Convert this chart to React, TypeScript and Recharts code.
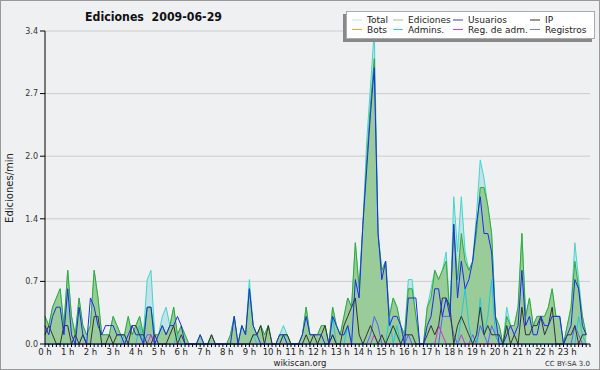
import { ComposedChart, Area, Line, XAxis, YAxis, CartesianGrid } from 'recharts';

// 10-minute slots, one row per hour (6 values), edits per minute
const totalValues = [
  0.3, 0.2, 0.4, 0.5, 0.6, 0.2,
  0.8, 0.3, 0.1, 0.5, 0.2, 0.1,
  0.2, 0.8, 0.5, 0.1, 0.1, 0.1,
  0.3, 0.2, 0.1, 0.1, 0.3, 0.1,
  0.2, 0.3, 0.1, 0.7, 0.8, 0.1,
  0.1, 0.3, 0.4, 0.2, 0.4, 0.1,
  0.2, 0.1, 0, 0, 0, 0.1,
  0, 0, 0.1, 0, 0, 0,
  0, 0.1, 0.3, 0, 0.2, 0.1,
  0.7, 0.2, 0.1, 0.2, 0.1, 0.2,
  0, 0, 0.1, 0.2, 0.1, 0,
  0, 0, 0.1, 0.4, 0.1, 0.1,
  0.1, 0.2, 0.2, 0, 0.4, 0.2,
  0.1, 0.3, 0.5, 0.4, 1.1, 0.6,
  1.3, 2.2, 2.8, 3.4, 1.2, 0.8,
  0.9, 0.3, 0.5, 0.4, 0.2, 0.1,
  0.7, 0.7, 0.3, 0, 0, 0.4,
  0.6, 0.8, 0.7, 0.8, 1.0, 0.3,
  1.6, 1.0, 1.6, 1.0, 0.8, 0.9,
  1.4, 2.0, 1.8, 1.5, 1.2, 0.3,
  0.2, 0, 0.4, 0.2, 0.2, 0.4,
  1.2, 0.3, 0.5, 0.2, 0.3, 0.3,
  0.3, 0.4, 0.6, 0.3, 0.3, 0,
  0.2, 0.4, 1.1, 0.7, 0.3, 0.1,
];

const edicionesValues = [
  0.3, 0.2, 0.4, 0.5, 0.6, 0.2,
  0.8, 0.3, 0.1, 0.5, 0.2, 0.1,
  0.2, 0.8, 0.5, 0.1, 0.1, 0.1,
  0.3, 0.2, 0.1, 0.1, 0.3, 0.1,
  0.2, 0.3, 0.1, 0.4, 0.4, 0.1,
  0.1, 0.2, 0.1, 0.2, 0.4, 0.1,
  0.2, 0.1, 0, 0, 0, 0.1,
  0, 0, 0.1, 0, 0, 0,
  0, 0.1, 0.3, 0, 0.2, 0.1,
  0.6, 0.2, 0.1, 0.2, 0.1, 0.2,
  0, 0, 0.1, 0.1, 0.1, 0,
  0, 0, 0.1, 0.4, 0.1, 0.1,
  0.1, 0.2, 0.2, 0, 0.4, 0.2,
  0.1, 0.3, 0.5, 0.4, 1.1, 0.6,
  1.3, 2.0, 2.6, 3.1, 1.2, 0.8,
  0.9, 0.3, 0.5, 0.4, 0.2, 0.1,
  0.6, 0.6, 0.3, 0, 0, 0.4,
  0.5, 0.8, 0.7, 0.8, 0.9, 0.3,
  1.3, 0.7, 1.2, 0.9, 0.8, 0.9,
  1.2, 1.7, 1.7, 1.5, 1.2, 0.3,
  0.2, 0, 0.3, 0.2, 0.2, 0.4,
  1.2, 0.3, 0.5, 0.2, 0.3, 0.3,
  0.3, 0.4, 0.6, 0.3, 0.3, 0,
  0.2, 0.4, 0.9, 0.6, 0.3, 0.1,
];

const usuariosValues = [
  0.2, 0.1, 0.3, 0.4, 0.4, 0.1,
  0.6, 0.1, 0, 0.4, 0.1, 0,
  0.5, 0.4, 0.2, 0.1, 0.2, 0.2,
  0.2, 0.1, 0.1, 0, 0.1, 0.2,
  0.1, 0.1, 0, 0.4, 0.4, 0,
  0.1, 0.2, 0.1, 0.2, 0.2, 0.3,
  0.2, 0, 0, 0, 0, 0.1,
  0, 0, 0, 0, 0, 0,
  0, 0, 0.3, 0, 0.2, 0.1,
  0.6, 0.2, 0.1, 0, 0, 0,
  0, 0, 0.1, 0.1, 0, 0,
  0, 0, 0.1, 0.3, 0.1, 0.1,
  0.1, 0.1, 0, 0, 0.3, 0.2,
  0.1, 0.1, 0.2, 0, 0.7, 0.5,
  1.3, 1.9, 2.5, 3.0, 1.2, 0.7,
  0.9, 0.2, 0.3, 0.3, 0.2, 0,
  0.5, 0.5, 0.5, 0, 0, 0.2,
  0.3, 0.6, 0.6, 0.3, 0.5, 0.3,
  1.3, 0.5, 0.9, 0.6, 0.7, 0.9,
  1.3, 1.6, 1.2, 1.2, 1.0, 0.3,
  0, 0, 0.1, 0.2, 0.1, 0.2,
  0.8, 0.2, 0.3, 0.1, 0.1, 0.3,
  0.2, 0.2, 0.3, 0.3, 0.3, 0,
  0.1, 0.2, 0.7, 0.6, 0.2, 0.1,
];

const ipValues = [
  0.1, 0.2, 0.1, 0, 0, 0.2,
  0.2, 0, 0.1, 0, 0.1, 0,
  0, 0.3, 0.3, 0, 0, 0.1,
  0, 0.1, 0.1, 0.1, 0, 0.2,
  0.2, 0.1, 0.1, 0, 0, 0.1,
  0, 0, 0, 0.1, 0.2, 0,
  0.1, 0, 0, 0, 0, 0,
  0, 0, 0.1, 0, 0, 0,
  0, 0, 0, 0, 0, 0,
  0, 0.1, 0.1, 0.2, 0, 0.2,
  0, 0, 0, 0.1, 0.1, 0,
  0, 0, 0, 0.1, 0, 0.1,
  0, 0.1, 0.2, 0, 0.1, 0,
  0, 0.2, 0.3, 0.4, 0.5, 0.1,
  0, 0.1, 0.2, 0.1, 0, 0.1,
  0, 0.1, 0.2, 0.1, 0, 0.1,
  0.1, 0.1, 0, 0, 0, 0.1,
  0.2, 0.1, 0.2, 0.5, 0.5, 0.4,
  0, 0.2, 0.3, 0.2, 0.1, 0,
  0.1, 0.4, 0.1, 0.2, 0.1, 0.1,
  0.1, 0, 0.2, 0, 0.1, 0,
  0.4, 0.1, 0.1, 0.2, 0.2, 0.3,
  0.1, 0.2, 0.4, 0, 0, 0,
  0.1, 0.1, 0.2, 0, 0.1, 0.1,
];

const adminsValues = [
  0, 0, 0, 0, 0, 0,
  0, 0, 0, 0, 0.1, 0,
  0, 0, 0, 0, 0, 0,
  0, 0, 0, 0.1, 0, 0,
  0, 0.2, 0, 0, 0, 0,
  0, 0, 0, 0, 0, 0.1,
  0, 0, 0, 0, 0, 0,
  0, 0, 0, 0, 0, 0,
  0, 0, 0, 0, 0, 0,
  0, 0.1, 0, 0, 0, 0,
  0, 0, 0, 0.1, 0, 0,
  0, 0, 0, 0, 0, 0,
  0, 0, 0, 0, 0.3, 0,
  0, 0, 0.2, 0, 0, 0,
  0, 0, 0, 0, 0, 0,
  0, 0.3, 0, 0.2, 0, 0,
  0, 0, 0, 0, 0, 0,
  0, 0, 0, 0, 0, 0,
  0, 0, 0.3, 0.6, 0.2, 0,
  0, 0.5, 0.1, 0.3, 0.7, 0.1,
  0, 0, 0, 0, 0, 0,
  0, 0, 0, 0, 0, 0,
  0, 0, 0, 0, 0, 0,
  0, 0, 0, 0.3, 0.1, 0,
];

const regAdmValues = [
  0, 0, 0, 0, 0, 0,
  0, 0, 0, 0, 0, 0,
  0, 0, 0, 0, 0, 0,
  0, 0, 0, 0, 0, 0,
  0, 0, 0, 0, 0.1, 0,
  0, 0, 0, 0, 0, 0,
  0, 0, 0, 0, 0, 0,
  0, 0, 0, 0, 0, 0,
  0, 0, 0, 0, 0, 0,
  0, 0, 0, 0, 0, 0,
  0, 0, 0, 0, 0, 0,
  0, 0, 0, 0, 0, 0,
  0, 0, 0, 0, 0, 0,
  0, 0, 0, 0, 0, 0,
  0, 0, 0, 0.1, 0, 0,
  0, 0, 0, 0, 0, 0,
  0, 0, 0, 0, 0, 0,
  0, 0, 0.2, 0.1, 0, 0,
  0, 0, 0.1, 0, 0, 0,
  0, 0, 0, 0, 0, 0,
  0, 0, 0, 0, 0, 0,
  0, 0, 0, 0, 0, 0,
  0, 0, 0, 0, 0, 0,
  0, 0, 0, 0, 0, 0,
];

const registrosValues = [
  0, 0, 0, 0, 0, 0,
  0, 0, 0, 0, 0, 0,
  0, 0, 0, 0, 0, 0,
  0, 0, 0, 0, 0, 0,
  0, 0, 0, 0.1, 0.1, 0,
  0, 0, 0, 0, 0, 0,
  0, 0, 0, 0, 0, 0,
  0, 0, 0, 0, 0, 0,
  0, 0, 0, 0, 0, 0,
  0, 0, 0, 0, 0, 0,
  0, 0, 0, 0, 0, 0,
  0, 0, 0, 0, 0, 0,
  0, 0, 0, 0, 0.1, 0,
  0, 0, 0, 0, 0, 0,
  0, 0, 0.1, 0.3, 0.2, 0,
  0, 0, 0, 0, 0, 0,
  0.1, 0, 0, 0, 0, 0,
  0, 0, 0, 0.3, 0.3, 0.3,
  0.1, 0, 0, 0, 0, 0.1,
  0, 0.2, 0.1, 0, 0.2, 0.1,
  0, 0, 0, 0, 0, 0,
  0, 0, 0, 0, 0, 0,
  0, 0, 0, 0, 0, 0,
  0, 0, 0.2, 0.1, 0, 0,
];

const hourLabels = [
  '0 h', '1 h', '2 h', '3 h', '4 h', '5 h', '6 h', '7 h', '8 h', '9 h', '10 h', '11 h',
  '12 h', '13 h', '14 h', '15 h', '16 h', '17 h', '18 h', '19 h', '20 h', '21 h', '22 h', '23 h',
];

const yTicks = [0, 0.68, 1.36, 2.04, 2.72, 3.4];

const legendItems = [
  { name: 'Total', color: '#b4e6e6', col: 0, row: 0 },
  { name: 'Ediciones', color: '#8ccc8c', col: 1, row: 0 },
  { name: 'Usuarios', color: '#3a3acc', col: 2, row: 0 },
  { name: 'IP', color: '#333333', col: 3, row: 0 },
  { name: 'Bots', color: '#ff9c33', col: 0, row: 1 },
  { name: 'Admins.', color: '#3cccdc', col: 1, row: 1 },
  { name: 'Reg. de adm.', color: '#cc44cc', col: 2, row: 1 },
  { name: 'Registros', color: '#7777ee', col: 3, row: 1 },
];

const data = totalValues.map((t, i) => ({
  slot: i,
  total: t,
  ediciones: edicionesValues[i],
  usuarios: usuariosValues[i],
  ip: ipValues[i],
  admins: adminsValues[i],
  regAdm: regAdmValues[i],
  registros: registrosValues[i],
}));

const slotTicks = Array.from({ length: 145 }, (_, i) => i);

const font = '"DejaVu Sans", Verdana, sans-serif';

function HourTick(props: any) {
  const { x, y, payload } = props;
  const v = payload.value;
  if (v % 6 !== 0 || v >= 144) return <g />;
  return (
    <text x={x} y={y + 6} textAnchor="middle" fontSize={8.5} fontFamily={font} fill="#222">
      {hourLabels[v / 6]}
    </text>
  );
}

const legendCols = [352, 393, 453, 530];

export default function App() {
  return (
    <div style={{ position: 'absolute', left: 0, top: 0, width: 600, height: 370, background: '#eff0f1' }}>
      <ComposedChart width={600} height={370} data={data} margin={{ top: 31, right: 10, bottom: 0, left: 0 }}>
        <CartesianGrid horizontal vertical={false} stroke="#cccccc" />
        <XAxis
          dataKey="slot"
          type="number"
          domain={[0, 144]}
          ticks={slotTicks}
          interval={0}
          height={26}
          tickSize={3}
          tickLine={{ stroke: '#000' }}
          axisLine={{ stroke: '#000' }}
          tick={<HourTick />}
        />
        <YAxis
          type="number"
          domain={[0, 3.4]}
          ticks={yTicks}
          width={45}
          tickSize={5}
          tickLine={{ stroke: '#000' }}
          axisLine={{ stroke: '#000' }}
          tickFormatter={(v: number) => v.toFixed(1)}
          tick={{ fontSize: 8, fill: '#333', fontFamily: font }}
        />
        <Area type="linear" dataKey="total" stroke="#40d8cc" strokeWidth={1} fill="#c4e2ea" fillOpacity={1} dot={false} activeDot={false} isAnimationActive={false} />
        <Area type="linear" dataKey="ediciones" stroke="#33aa33" strokeWidth={1} fill="#99cc99" fillOpacity={1} dot={false} activeDot={false} isAnimationActive={false} />
        <Line type="linear" dataKey="registros" stroke="#5c5cff" strokeWidth={1} dot={false} activeDot={false} isAnimationActive={false} />
        <Line type="linear" dataKey="regAdm" stroke="#cc33cc" strokeWidth={1} dot={false} activeDot={false} isAnimationActive={false} />
        <Line type="linear" dataKey="admins" stroke="#22c8dd" strokeWidth={1} dot={false} activeDot={false} isAnimationActive={false} />
        <Line type="linear" dataKey="ip" stroke="#333333" strokeWidth={1} dot={false} activeDot={false} isAnimationActive={false} />
        <Line type="linear" dataKey="usuarios" stroke="#1a2cf0" strokeWidth={1} dot={false} activeDot={false} isAnimationActive={false} />
      </ComposedChart>
      <svg width={600} height={370} style={{ position: 'absolute', left: 0, top: 0, pointerEvents: 'none' }}>
        <rect x={0.5} y={0.5} width={599} height={369} fill="none" stroke="#999" />
        <text x={85} y={21} fontSize={12.5} fontWeight="bold" fontFamily={font} fill="#111" textLength={137} lengthAdjust="spacingAndGlyphs">
          {'Ediciones\u00a0\u00a02009-06-29'}
        </text>
        <text transform="translate(13,188) rotate(-90)" textAnchor="middle" fontSize={10} fontFamily={font} fill="#222">
          Ediciones/min
        </text>
        <text x={300} y={366} textAnchor="middle" fontSize={8.5} fontFamily={font} fill="#222">wikiscan.org</text>
        <text x={590} y={366} textAnchor="end" fontSize={7} fontFamily={font} fill="#333">CC BY-SA 3.0</text>
        <rect x={343} y={14} width={249} height={28} fill="#888" />
        <rect x={346.5} y={11.5} width={248} height={27} fill="#fff" stroke="#aaa" />
        {legendItems.map((it) => {
          const lx = legendCols[it.col];
          const ly = 20 + it.row * 9.5;
          return (
            <g key={it.name}>
              <line x1={lx} x2={lx + 10} y1={ly} y2={ly} stroke={it.color} strokeWidth={1} />
              <text x={lx + 15} y={ly + 3.3} fontSize={9} fontFamily={font} fill="#222">{it.name}</text>
            </g>
          );
        })}
      </svg>
    </div>
  );
}
